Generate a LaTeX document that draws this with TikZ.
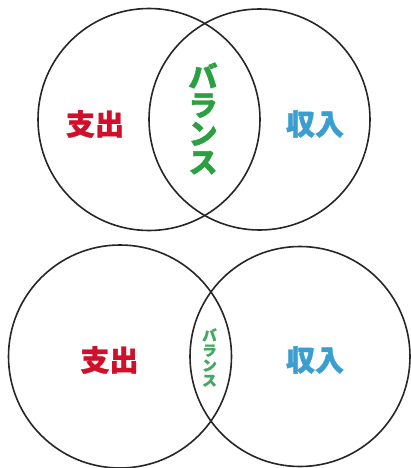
\documentclass[tikz,border=0pt]{standalone}
\usepackage{fontspec}
\newfontfamily\cjk{Noto Sans CJK JP}[BoldFeatures={FakeBold=1.2}]
\definecolor{expred}{HTML}{D0102A}
\definecolor{incblue}{HTML}{3A9FD0}
\definecolor{balgreen}{HTML}{2BA040}
\definecolor{balgreen2}{HTML}{45A860}
\begin{document}
\begin{tikzpicture}[x=1pt,y=-1pt,
  ring/.style={draw=black!85,line width=1.6pt},
  big/.style={font=\cjk\bfseries\fontsize{29}{29}\selectfont,inner sep=0pt},
  vbig/.style={font=\cjk\bfseries\fontsize{29}{28.5}\selectfont,inner sep=0pt,align=center},
  vsmall/.style={font=\cjk\bfseries\fontsize{14.5}{15}\selectfont,inner sep=0pt,align=center}]
\useasboundingbox[fill=white] (0,0) rectangle (410,468);
% top
\draw[ring] (149,119.5) circle[radius=111] coordinate (tl);
\draw[ring] (259.5,119.5) circle[radius=110.5] coordinate (tr);
\node[big,text=expred] (texp) at (95,124) {支出};
\node[big,text=incblue] (tinc) at (315,124) {収入};
\node[vbig,text=balgreen] (tbal) at (203,118.5) {バ\\ラ\\ン\\ス};
% bottom
\draw[ring] (120,356.5) circle[radius=111.5] coordinate (bl);
\draw[ring] (300,356.5) circle[radius=110] coordinate (br);
\node[big,text=expred] (bexp) at (109.5,360) {支出};
\node[big,text=incblue] (binc) at (315,360) {収入};
\node[vsmall,text=balgreen2] (bbal) at (209.5,357.5) {バ\\ラ\\ン\\ス};
\end{tikzpicture}
\end{document}
